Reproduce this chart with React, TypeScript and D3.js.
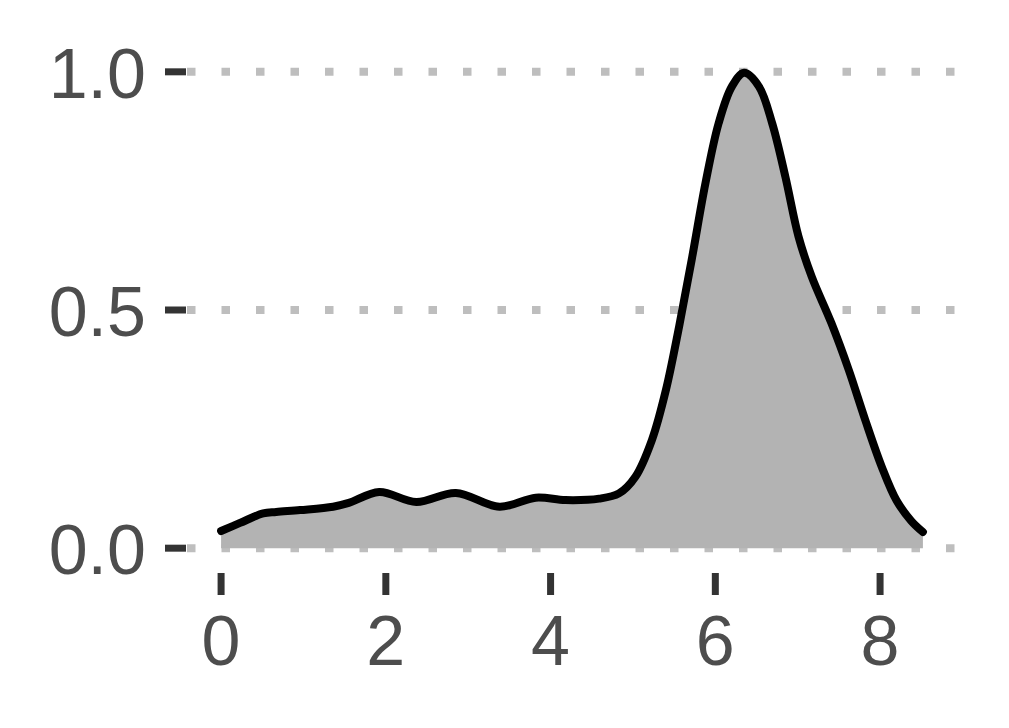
import React, { useEffect, useRef } from "react";
import * as d3 from "d3";

// density curve
const xs = [0, 0.23, 0.51, 0.67, 0.96, 1.36, 1.55, 1.92, 2.37, 2.85, 3.38, 3.82, 4.18, 4.59, 4.83, 5.03, 5.23, 5.4, 5.56, 5.72, 5.88, 6.04, 6.2, 6.35, 6.53, 6.69, 6.85, 7.01, 7.17, 7.41, 7.62, 7.82, 8.02, 8.2, 8.38, 8.52];
const ys = [0.036, 0.053, 0.073, 0.076, 0.080, 0.087, 0.095, 0.118, 0.097, 0.116, 0.087, 0.106, 0.101, 0.104, 0.115, 0.150, 0.227, 0.332, 0.465, 0.612, 0.766, 0.892, 0.969, 0.998, 0.969, 0.892, 0.780, 0.654, 0.570, 0.472, 0.374, 0.269, 0.171, 0.100, 0.057, 0.034];

const xTicks = [0, 2, 4, 6, 8];
const yTicks = [0, 0.5, 1.0];

const W = 1009;
const H = 728;

const App: React.FC = () => {
  const svgRef = useRef<SVGSVGElement | null>(null);

  useEffect(() => {
    if (!svgRef.current) return;
    const svg = d3.select(svgRef.current);
    svg.selectAll("*").remove();

    // panel box (ggplot-like, 5% expansion on each side)
    const panel = { left: 186, right: 958, top: 48, bottom: 572 };
    const xMin = 0, xMax = 8.52;
    const xPad = (xMax - xMin) * 0.05;
    const x = d3.scaleLinear().domain([xMin - xPad, xMax + xPad]).range([panel.left, panel.right]);
    const y = d3.scaleLinear().domain([-0.05, 1.05]).range([panel.bottom, panel.top]);

    const font = "'Liberation Sans', Arial, Helvetica, sans-serif";
    const fontSize = 70;

    // dotted grid lines
    svg.append("g")
      .selectAll("line")
      .data(yTicks)
      .join("line")
      .attr("x1", panel.left + 1)
      .attr("x2", panel.right)
      .attr("y1", (d) => y(d))
      .attr("y2", (d) => y(d))
      .attr("stroke", "#bebebe")
      .attr("stroke-width", 8)
      .attr("stroke-dasharray", "8.5,26");

    const data = xs.map((v, i) => [v, ys[i]] as [number, number]);
    const curve = d3.curveCatmullRom.alpha(0.5);

    const area = d3.area<[number, number]>()
      .x((d) => x(d[0]))
      .y0(y(0))
      .y1((d) => y(d[1]))
      .curve(curve);

    const line = d3.line<[number, number]>()
      .x((d) => x(d[0]))
      .y((d) => y(d[1]))
      .curve(curve);

    svg.append("path").attr("d", area(data)).attr("fill", "#b3b3b3");
    svg.append("path")
      .attr("d", line(data))
      .attr("fill", "none")
      .attr("stroke", "#000")
      .attr("stroke-width", 8)
      .attr("stroke-linecap", "round")
      .attr("stroke-linejoin", "round");

    // y axis
    const yAx = svg.append("g");
    yAx.selectAll("line")
      .data(yTicks)
      .join("line")
      .attr("x1", panel.left - 21)
      .attr("x2", panel.left)
      .attr("y1", (d) => y(d))
      .attr("y2", (d) => y(d))
      .attr("stroke", "#333333")
      .attr("stroke-width", 7);
    yAx.selectAll("text")
      .data(yTicks)
      .join("text")
      .attr("x", panel.left - 40)
      .attr("y", (d) => y(d) + 26)
      .attr("text-anchor", "end")
      .attr("font-family", font)
      .attr("font-size", fontSize)
      .attr("fill", "#4d4d4d")
      .text((d) => d3.format(".1f")(d));

    // x axis
    const xAx = svg.append("g");
    xAx.selectAll("line")
      .data(xTicks)
      .join("line")
      .attr("x1", (d) => x(d))
      .attr("x2", (d) => x(d))
      .attr("y1", panel.bottom + 1)
      .attr("y2", panel.bottom + 23)
      .attr("stroke", "#333333")
      .attr("stroke-width", 7);
    xAx.selectAll("text")
      .data(xTicks)
      .join("text")
      .attr("x", (d) => x(d))
      .attr("y", panel.bottom + 93)
      .attr("text-anchor", "middle")
      .attr("font-family", font)
      .attr("font-size", fontSize)
      .attr("fill", "#4d4d4d")
      .text((d) => String(d));
  }, []);

  return (
    <svg
      ref={svgRef}
      width={W}
      height={H}
      style={{ position: "absolute", left: 0, top: 0, background: "#fff" }}
    />
  );
};

export default App;
